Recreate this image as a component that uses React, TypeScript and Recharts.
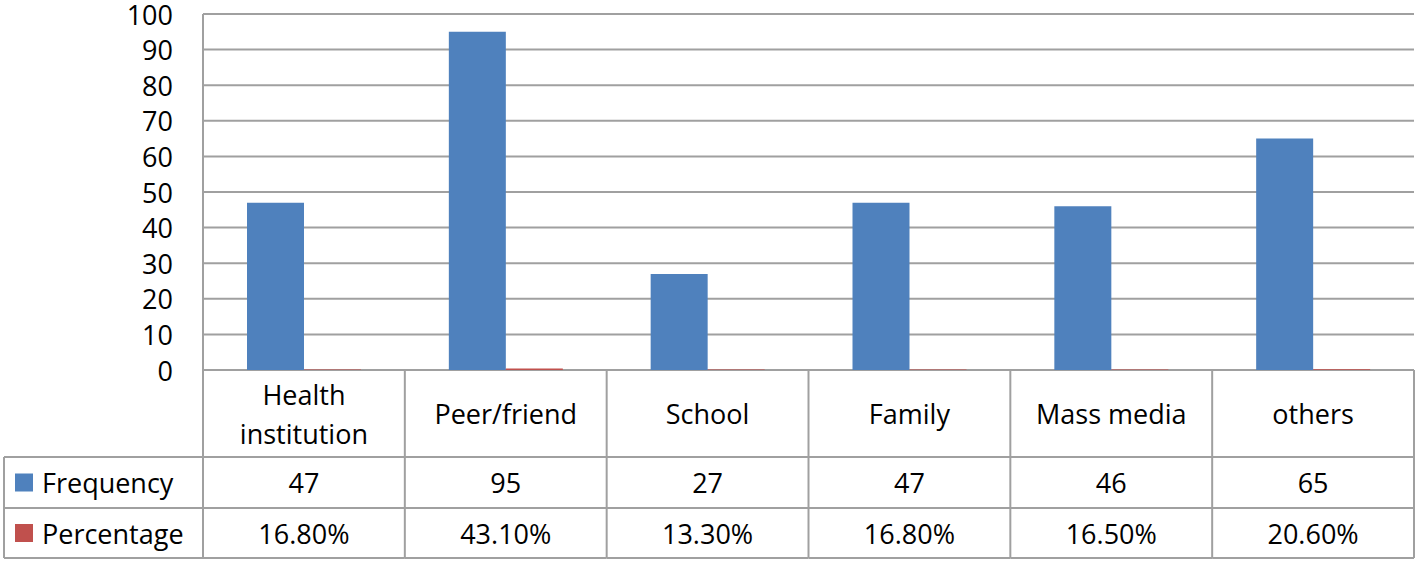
import { Bar, BarChart, CartesianGrid, XAxis, YAxis } from "recharts";

const categories = ["Health institution", "Peer/friend", "School", "Family", "Mass media", "others"];
const categoryLines = [["Health", "institution"], ["Peer/friend"], ["School"], ["Family"], ["Mass media"], ["others"]];
const frequency = [47, 95, 27, 47, 46, 65];
const percentage = [0.168, 0.431, 0.133, 0.168, 0.165, 0.206];
const yTicks = [0, 10, 20, 30, 40, 50, 60, 70, 80, 90, 100];

const BLUE = "#4f81bd";
const RED = "#c0504d";
const GRID = "#a0a0a0";
const FONT = "'Open Sans', sans-serif";
const FS = 27;

const W = 1418;
const H = 562;
const AXIS_W = 203;
const RIGHT = 4;
const CW = (W - AXIS_W - RIGHT) / categories.length;
// table row heights, starting at the plot bottom
const LABEL_H = 87;
const FREQ_H = 51;
const PCT_H = 50;
const TABLE_LEFT = 4;

const data = categories.map((c, i) => ({
  name: c,
  frequency: frequency[i],
  percentage: percentage[i],
}));

function YTick(props: any) {
  const { x, y, payload } = props;
  return (
    <text
      x={x}
      y={y}
      textAnchor="end"
      dominantBaseline="central"
      fontFamily={FONT}
      fontSize={FS}
      fill="#000"
    >
      {payload.value}
    </text>
  );
}

function TableTick(props: any) {
  const { x, y, payload } = props;
  const i: number = payload.index;
  const left = x - CW / 2;
  const right = x + CW / 2;
  const r1 = y + LABEL_H;
  const r2 = r1 + FREQ_H;
  const r3 = r2 + PCT_H;
  const lines = categoryLines[i];
  const lh = 39;
  const line = { stroke: GRID, strokeWidth: 2 };
  const txt = { fontFamily: FONT, fontSize: FS, fill: "#000", dominantBaseline: "central" as const };

  return (
    <g>
      <line x1={left} y1={y} x2={left} y2={r3} {...line} />
      {i === categories.length - 1 && <line x1={right} y1={y} x2={right} y2={r3} {...line} />}
      <line x1={left} y1={r1} x2={right} y2={r1} {...line} />
      <line x1={left} y1={r2} x2={right} y2={r2} {...line} />
      <line x1={left} y1={r3} x2={right} y2={r3} {...line} />
      {lines.map((l, k) => (
        <text
          key={k}
          x={x}
          y={y + LABEL_H / 2 + (k - (lines.length - 1) / 2) * lh}
          textAnchor="middle"
          {...txt}
        >
          {l}
        </text>
      ))}
      <text x={x} y={r1 + FREQ_H / 2} textAnchor="middle" {...txt}>
        {frequency[i]}
      </text>
      <text x={x} y={r2 + PCT_H / 2} textAnchor="middle" {...txt}>
        {(percentage[i] * 100).toFixed(2)}%
      </text>

      {/* row headers with legend keys */}
      {i === 0 && (
        <g>
          <line x1={TABLE_LEFT} y1={r1} x2={left} y2={r1} {...line} />
          <line x1={TABLE_LEFT} y1={r2} x2={left} y2={r2} {...line} />
          <line x1={TABLE_LEFT} y1={r3} x2={left} y2={r3} {...line} />
          <line x1={TABLE_LEFT} y1={r1} x2={TABLE_LEFT} y2={r3} {...line} />
          <rect x={15} y={r1 + FREQ_H / 2 - 9} width={18} height={18} fill={BLUE} />
          <text x={42} y={r1 + FREQ_H / 2} {...txt}>
            Frequency
          </text>
          <rect x={15} y={r2 + PCT_H / 2 - 9} width={18} height={18} fill={RED} />
          <text x={42} y={r2 + PCT_H / 2} {...txt}>
            Percentage
          </text>
        </g>
      )}
    </g>
  );
}

export default function App() {
  return (
    <div style={{ position: "fixed", left: 0, top: 0, width: W, height: H, background: "#fff" }}>
      <BarChart
        width={W}
        height={H}
        data={data}
        margin={{ top: 14, right: RIGHT, bottom: 0, left: 0 }}
        barGap={0}
        barSize={57}
      >
        <CartesianGrid vertical={false} stroke={GRID} strokeWidth={2} />
        <XAxis
          dataKey="name"
          height={H - 370}
          axisLine={false}
          tickLine={false}
          tickSize={0}
          tickMargin={0}
          interval={0}
          tick={<TableTick />}
        />
        <YAxis
          width={AXIS_W}
          domain={[0, 100]}
          ticks={yTicks}
          interval={0}
          axisLine={{ stroke: GRID, strokeWidth: 2 }}
          tickLine={false}
          tickMargin={24}
          tick={<YTick />}
        />
        <Bar dataKey="frequency" fill={BLUE} isAnimationActive={false} />
        <Bar dataKey="percentage" fill={RED} isAnimationActive={false} />
      </BarChart>
    </div>
  );
}
